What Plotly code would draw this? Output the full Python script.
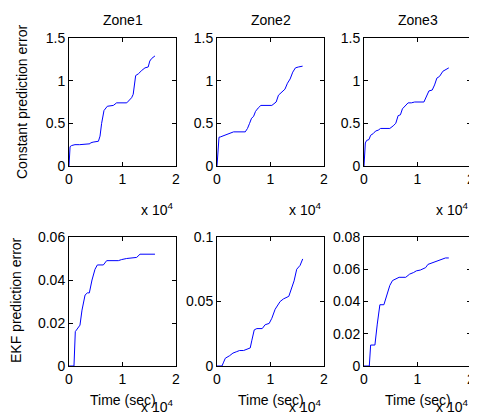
import plotly.graph_objects as go

# ---- data (time in sec, error values) ----
z1_const_t = [0, 100, 200, 500, 1120, 2000, 3000, 3900, 4000, 4500, 5500, 5800, 6100, 6540, 7160, 8290, 8900, 10800, 11700, 12000, 12460, 12960, 13600, 14200, 14800, 15100, 15450, 16070]
z1_const_v = [0, 0.15, 0.227, 0.24, 0.25, 0.25, 0.255, 0.26, 0.27, 0.28, 0.29, 0.35, 0.50, 0.65, 0.70, 0.71, 0.74, 0.74, 0.80, 0.84, 1.06, 1.08, 1.12, 1.15, 1.16, 1.23, 1.26, 1.29]

z2_const_t = [0, 150, 373, 600, 1550, 2360, 2800, 3100, 5280, 5700, 6090, 6460, 6830, 7200, 7700, 8200, 10250, 10680, 11060, 11490, 12000, 12700, 13170, 13670, 14160, 14660, 15200, 16000]
z2_const_v = [0, 0.20, 0.337, 0.34, 0.36, 0.38, 0.39, 0.40, 0.40, 0.44, 0.50, 0.56, 0.58, 0.64, 0.68, 0.71, 0.71, 0.73, 0.75, 0.83, 0.86, 0.90, 0.97, 1.02, 1.10, 1.15, 1.16, 1.17]

z3_const_t = [0, 100, 250, 500, 930, 1240, 1730, 2170, 2660, 3100, 4830, 5450, 5940, 6380, 6810, 7180, 7740, 8240, 8850, 9470, 11200, 11520, 11760, 12140, 12750, 13190, 13620, 14120, 14740, 15230, 15850]
z3_const_v = [0, 0.15, 0.27, 0.30, 0.31, 0.36, 0.38, 0.41, 0.42, 0.44, 0.44, 0.47, 0.50, 0.59, 0.60, 0.67, 0.71, 0.74, 0.74, 0.75, 0.75, 0.80, 0.82, 0.88, 0.89, 0.95, 1.03, 1.05, 1.11, 1.13, 1.15]

z1_ekf_t = [0, 930, 1180, 1800, 2050, 2430, 3000, 3430, 3800, 4300, 4860, 5300, 6420, 7040, 9220, 9840, 10780, 12650, 13270, 16070]
z1_ekf_v = [0, 0, 0.016, 0.018, 0.019, 0.026, 0.033, 0.034, 0.034, 0.040, 0.045, 0.047, 0.047, 0.049, 0.049, 0.0495, 0.050, 0.0505, 0.052, 0.052]

z2_ekf_t = [0, 930, 1240, 1550, 2360, 2980, 3600, 4220, 4970, 5470, 6210, 6520, 6960, 7450, 8450, 9000, 9750, 10250, 10870, 11800, 12420, 13420, 13980, 14410, 14900, 15530, 16020]
z2_ekf_v = [0, 0, 0.003, 0.006, 0.008, 0.010, 0.011, 0.012, 0.012, 0.013, 0.014, 0.020, 0.028, 0.029, 0.029, 0.032, 0.033, 0.037, 0.044, 0.050, 0.052, 0.054, 0.060, 0.066, 0.075, 0.078, 0.083]

z3_ekf_t = [0, 990, 1240, 2040, 2480, 2970, 3720, 4330, 4830, 5330, 5940, 6560, 7800, 8540, 9290, 9780, 10530, 11520, 11950, 12750, 13620, 14740, 15230, 15850]
z3_ekf_v = [0, 0, 0.013, 0.013, 0.026, 0.038, 0.038, 0.045, 0.050, 0.053, 0.054, 0.055, 0.055, 0.057, 0.058, 0.059, 0.0595, 0.061, 0.063, 0.064, 0.065, 0.066, 0.067, 0.067]

titles = ["Zone1", "Zone2", "Zone3"]
x_tickvals = [0, 10000, 20000]
x_ticktext = ["0", "1", "2"]
top_range = [0, 1.5]
top_ticks = [0, 0.5, 1, 1.5]
top_ticktext = ["0", "0.5", "1", "1.5"]
bot_ranges = [[0, 0.06], [0, 0.1], [0, 0.08]]
bot_ticks = [[0, 0.02, 0.04, 0.06], [0, 0.05, 0.1], [0, 0.02, 0.04, 0.06, 0.08]]
bot_ticktext = [["0", "0.02", "0.04", "0.06"], ["0", "0.05", "0.1"], ["0", "0.02", "0.04", "0.06", "0.08"]]

# page is 477x416 but the browser body has an 8px margin, so the figure
# is drawn at (8, 8); page pixel p maps to figure pixel p - OFF
OFF = 8
W, H = 477 - OFF, 416 - OFF
FONT = "Liberation Sans, Arial, Helvetica, sans-serif"
FS = 14

xpx = [(69, 176), (217, 324), (364, 471)]
top_px = (38, 166)
bot_px = (237, 366)

def fx(p):
    return (p - OFF) / W

def fy(p):
    return 1 - (p - OFF) / H

fig = go.Figure()

series = [
    (z1_const_t, z1_const_v), (z2_const_t, z2_const_v), (z3_const_t, z3_const_v),
    (z1_ekf_t, z1_ekf_v), (z2_ekf_t, z2_ekf_v), (z3_ekf_t, z3_ekf_v),
]

layout = {}
annotations = []
for i, (t, v) in enumerate(series):
    n = i + 1
    col = i % 3
    row = i // 3
    xa = "x" if n == 1 else f"x{n}"
    ya = "y" if n == 1 else f"y{n}"
    fig.add_trace(go.Scatter(x=t, y=v, mode="lines", line=dict(color="#0000FF", width=1),
                             xaxis=xa, yaxis=ya, showlegend=False, hoverinfo="skip"))
    common = dict(showline=True, linecolor="black", linewidth=1, mirror="allticks",
                  ticks="inside", ticklen=4, tickcolor="black", showgrid=False, zeroline=False,
                  automargin=False,
                  tickfont=dict(family=FONT, size=FS, color="black"))
    xk = "xaxis" if n == 1 else f"xaxis{n}"
    yk = "yaxis" if n == 1 else f"yaxis{n}"
    a, b = xpx[col]
    layout[xk] = dict(domain=[fx(a), min(fx(b), 1.0)], anchor=ya, range=[0, 20000],
                      tickvals=x_tickvals, ticktext=x_ticktext, **common)
    top, bot = top_px if row == 0 else bot_px
    yd = [fy(bot), fy(top)]
    if row == 0:
        layout[yk] = dict(domain=yd, anchor=xa, range=top_range,
                          tickvals=top_ticks, ticktext=top_ticktext, **common)
    else:
        layout[yk] = dict(domain=yd, anchor=xa, range=bot_ranges[col],
                          tickvals=bot_ticks[col], ticktext=bot_ticktext[col], **common)

    # x10^4 exponent labels
    ypos = 209 if row == 0 else 406
    annotations.append(dict(text="x 10<sup>4</sup>", xref="paper", yref="paper",
                            x=fx(b - 1), y=fy(ypos), xanchor="right", yanchor="middle",
                            showarrow=False, font=dict(family=FONT, size=FS, color="black")))
    if row == 0:
        annotations.append(dict(text=titles[col], xref="paper", yref="paper",
                                x=fx((a + b) / 2), y=fy(20),
                                xanchor="center", yanchor="middle", showarrow=False,
                                font=dict(family=FONT, size=FS, color="black")))
    else:
        annotations.append(dict(text="Time (sec)", xref="paper", yref="paper",
                                x=fx((a + b) / 2), y=fy(400),
                                xanchor="center", yanchor="middle", showarrow=False,
                                font=dict(family=FONT, size=FS, color="black")))

annotations.append(dict(text="Constant prediction error", xref="paper", yref="paper",
                        x=fx(22), y=fy(102), xanchor="center", yanchor="middle", textangle=-90,
                        showarrow=False, font=dict(family=FONT, size=FS, color="black")))
annotations.append(dict(text="EKF prediction error", xref="paper", yref="paper",
                        x=fx(16), y=fy(300), xanchor="center", yanchor="middle", textangle=-90,
                        showarrow=False, font=dict(family=FONT, size=FS, color="black")))

fig.update_layout(width=W, height=H, margin=dict(l=0, r=0, t=0, b=0),
                  paper_bgcolor="white", plot_bgcolor="white",
                  annotations=annotations, **layout)

fig.write_html("out.html")
